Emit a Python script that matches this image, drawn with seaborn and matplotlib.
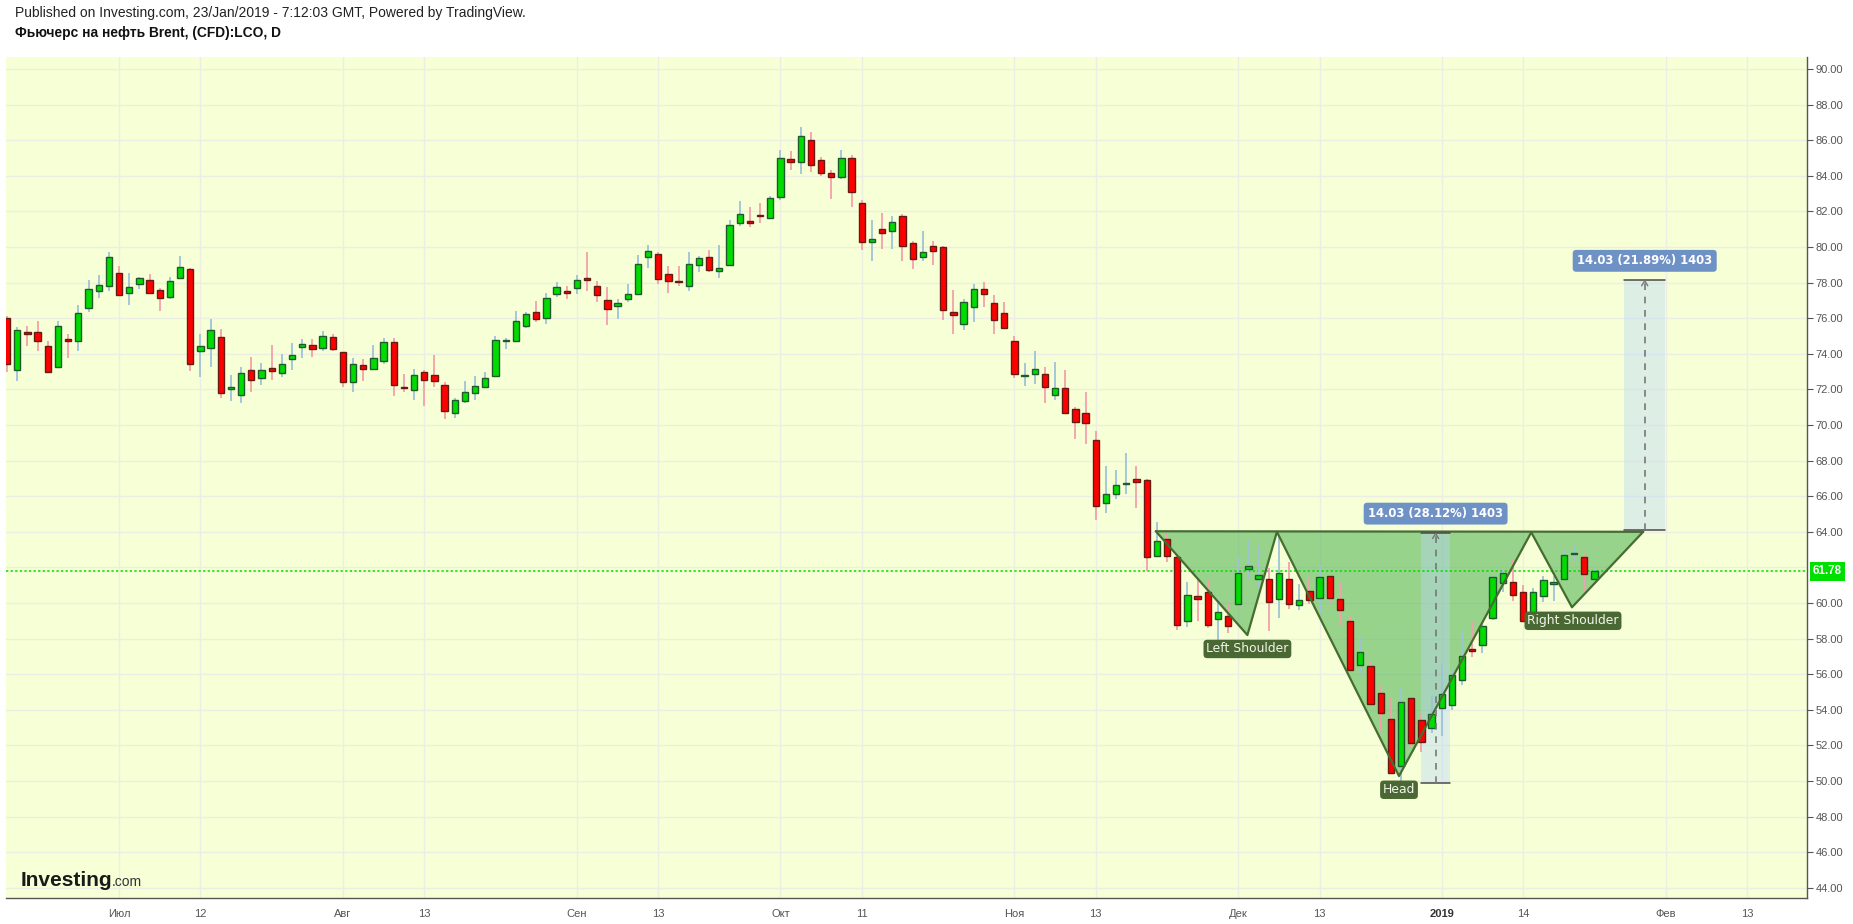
import numpy as np
import pandas as pd
import matplotlib
matplotlib.use("Agg")
import matplotlib.pyplot as plt
import matplotlib.transforms as mtransforms
from matplotlib.patches import Polygon, Rectangle
import seaborn as sns

# ---------------- data ----------------
opens = [76.0, 73.08, 75.2, 75.21, 74.43, 73.25, 74.82, 74.71, 76.57, 77.52,
         77.81, 78.55, 77.41, 77.92, 78.14, 77.58, 77.19, 78.25, 78.76, 74.13,
         74.30, 74.93, 72.01, 71.71, 73.08, 72.63, 73.19, 72.91, 73.68, 74.37,
         74.48, 74.30, 74.93, 74.09, 72.39, 73.36, 73.17, 73.58, 74.65, 72.12,
         71.96, 72.97, 72.80, 72.24, 70.66, 71.34, 71.79, 72.12, 72.74, 74.71,
         74.71, 75.55, 76.34, 76.0, 77.35, 77.51, 77.68, 78.21, 77.79, 77.01,
         76.67, 77.07, 77.35, 79.42, 79.59, 78.47, 78.07, 77.79, 78.97, 79.42,
         78.64, 78.97, 81.33, 81.44, 81.78, 81.61, 82.79, 84.92, 84.75, 85.98,
         84.86, 84.13, 83.91, 84.97, 82.45, 80.26, 80.99, 80.88, 81.72, 80.21,
         79.41, 80.08, 80.02, 76.33, 75.66, 76.61, 77.62, 76.83, 76.27, 74.71,
         72.76, 72.86, 72.86, 71.68, 72.07, 70.90, 70.68, 69.16, 65.64, 66.14,
         66.70, 66.98, 66.93, 62.62, 63.62, 62.60, 59.01, 60.41, 60.64, 59.12,
         59.29, 59.96, 61.93, 61.37, 61.37, 60.24, 61.37, 59.91, 60.69, 60.30,
         61.54, 60.24, 59.01, 56.54, 56.48, 54.96, 53.50, 50.87, 54.68, 53.45,
         53.00, 54.12, 54.29, 55.69, 57.43, 57.66, 59.18, 61.14, 61.20, 60.64,
         59.34, 60.41, 61.09, 61.37, 62.76, 62.60, 61.37]
highs = [76.1, 75.52, 75.57, 75.85, 74.73, 75.86, 75.12, 76.76, 78.16, 78.44,
         79.73, 78.95, 78.55, 78.33, 78.48, 77.69, 78.33, 79.51, 78.82, 75.12,
         75.96, 75.40, 72.82, 73.27, 73.83, 73.49, 74.50, 74.0, 74.61, 74.84,
         74.84, 75.29, 75.12, 74.12, 73.77, 73.70, 74.50, 74.89, 74.89, 72.87,
         73.15, 73.08, 73.94, 72.42, 71.52, 72.48, 72.76, 72.98, 75.01, 74.89,
         76.41, 76.36, 76.97, 77.42, 78.04, 77.79, 78.43, 79.72, 78.07, 77.74,
         77.07, 77.91, 79.55, 80.11, 79.70, 78.92, 78.92, 79.70, 79.48, 79.81,
         80.09, 81.50, 82.58, 82.24, 82.47, 82.84, 85.42, 85.38, 86.73, 86.45,
         85.08, 84.30, 85.42, 85.14, 82.62, 81.51, 81.89, 81.72, 81.83, 80.32,
         80.88, 80.36, 80.08, 77.58, 77.07, 77.91, 78.03, 77.28, 76.89, 74.99,
         73.49, 74.16, 73.27, 73.55, 73.10, 71.01, 71.87, 69.67, 67.69, 67.47,
         68.40, 67.69, 66.95, 64.54, 63.90, 62.83, 61.16, 61.35, 61.27, 60.34,
         59.96, 62.60, 63.61, 63.28, 61.99, 63.95, 62.32, 61.09, 61.42, 62.10,
         61.56, 61.20, 59.29, 58.11, 56.76, 55.36, 54.68, 55.30, 54.70, 53.78,
         54.81, 56.59, 56.31, 58.37, 58.95, 58.95, 61.50, 61.87, 62.49, 61.03,
         60.86, 61.54, 61.54, 63.00, 63.22, 62.77, 62.00]
lows = [73.0, 72.48, 74.46, 74.13, 72.95, 73.2, 73.79, 74.16, 76.33, 77.11,
        77.51, 77.22, 76.72, 77.66, 77.36, 76.38, 77.06, 78.18, 73.04, 72.70,
        73.23, 71.52, 71.36, 71.21, 71.88, 72.27, 72.55, 72.70, 73.10, 73.79,
        73.83, 74.16, 74.16, 72.14, 71.88, 72.48, 73.08, 73.42, 71.64, 71.88,
        71.41, 71.09, 72.14, 70.31, 70.42, 71.26, 71.43, 72.06, 72.70, 74.24,
        74.65, 75.44, 75.76, 75.70, 77.21, 77.05, 77.33, 77.50, 76.93, 75.64,
        75.93, 76.93, 77.33, 78.79, 77.91, 77.40, 77.79, 77.51, 78.58, 78.58,
        78.28, 78.95, 81.20, 81.14, 81.36, 81.57, 82.62, 84.32, 84.07, 84.19,
        83.96, 82.71, 83.79, 82.26, 79.85, 79.23, 79.87, 79.87, 79.20, 78.75,
        79.22, 79.0, 75.92, 75.13, 75.36, 75.81, 76.61, 75.13, 75.40, 72.62,
        72.17, 72.28, 71.22, 71.38, 70.62, 69.20, 68.92, 64.67, 65.08, 65.86,
        66.14, 65.34, 61.78, 62.60, 62.32, 58.46, 58.63, 59.01, 58.61, 57.72,
        58.33, 59.90, 61.31, 60.86, 58.43, 59.18, 59.68, 59.63, 59.96, 59.40,
        59.96, 58.73, 56.20, 56.09, 54.30, 52.83, 50.41, 49.86, 51.90, 51.63,
        52.70, 52.53, 54.00, 55.41, 56.99, 57.21, 59.06, 60.64, 60.13, 58.95,
        59.29, 60.06, 60.13, 61.30, 62.32, 60.64, 61.30]
closes = [73.4, 75.33, 75.1, 74.71, 73.0, 75.55, 74.71, 76.29, 77.64, 77.86,
          79.43, 77.28, 77.75, 78.25, 77.41, 77.13, 78.09, 78.87, 73.42, 74.43,
          75.33, 71.82, 72.12, 72.91, 72.55, 73.08, 73.06, 73.42, 73.92, 74.54,
          74.24, 74.99, 74.24, 72.39, 73.42, 73.17, 73.75, 74.65, 72.27, 72.05,
          72.80, 72.55, 72.46, 70.78, 71.39, 71.84, 72.18, 72.63, 74.76, 74.73,
          75.83, 76.22, 75.94, 77.12, 77.74, 77.40, 78.13, 78.17, 77.29, 76.50,
          76.84, 77.35, 79.03, 79.76, 78.19, 78.07, 78.02, 79.03, 79.36, 78.69,
          78.80, 81.21, 81.83, 81.33, 81.72, 82.73, 84.97, 84.80, 86.26, 84.58,
          84.13, 83.91, 84.97, 83.07, 80.26, 80.43, 80.77, 81.38, 80.04, 79.31,
          79.74, 79.80, 76.44, 76.16, 76.89, 77.62, 77.34, 75.88, 75.43, 72.86,
          72.80, 73.14, 72.13, 72.07, 70.68, 70.17, 70.12, 65.47, 66.14, 66.65,
          66.74, 66.81, 62.56, 63.51, 62.62, 58.78, 60.47, 60.24, 58.78, 59.51,
          58.73, 61.70, 62.10, 61.59, 60.07, 61.70, 59.96, 60.19, 60.19, 61.48,
          60.30, 59.63, 56.25, 57.27, 54.34, 53.84, 50.47, 54.46, 52.15, 52.21,
          53.78, 54.91, 55.97, 57.04, 57.32, 58.73, 61.48, 61.70, 60.47, 59.01,
          60.64, 61.31, 61.20, 62.72, 62.78, 61.65, 61.78]

last_price = 61.78

# trading days (ICE Brent: weekdays, closed 25 Dec and 1 Jan)
all_days = pd.bdate_range("2018-06-15", "2019-02-20")
all_days = all_days[~all_days.isin(pd.to_datetime(["2018-12-25", "2019-01-01"]))]

tick_dates = ["2018-07-02", "2018-07-12", "2018-08-01", "2018-08-13", "2018-09-03",
              "2018-09-13", "2018-10-01", "2018-10-11", "2018-11-01", "2018-11-13",
              "2018-12-03", "2018-12-13", "2019-01-02", "2019-01-14", "2019-02-01",
              "2019-02-13"]
tick_labels = ["Июл", "12", "Авг", "13", "Сен", "13", "Окт", "11", "Ноя", "13",
               "Дек", "13", "2019", "14", "Фев", "13"]
y_ticks = [44, 46, 48, 50, 52, 54, 56, 58, 60, 64, 66, 68, 70, 72, 74, 76,
           78, 80, 82, 84, 86, 88, 90]

# inverse head & shoulders drawing (date of point, price)
hs_dates = ["2018-11-21", "2018-12-04", "2018-12-07", "2018-12-26", "2019-01-15",
            "2019-01-21", "2019-01-30"]
hs_offsets = [-0.1, -0.1, -0.2, -0.2, -0.2, -0.2, -0.2]
hs_prices = [64.03, 58.2, 64.0, 50.28, 63.97, 59.76, 64.0]
hs_labels = ["Left Shoulder", "Head", "Right Shoulder"]
hs_label_prices = [57.42, 49.51, 59.0]

# price range measurements
m_left = ["2018-12-28", "2019-01-28"]
m_width = [2.9, 4.0]
m_low = [49.89, 64.09]
m_high = [63.92, 78.12]
m_text = ["14.03 (28.12%) 1403", "14.03 (21.89%) 1403"]

# ---------------- style ----------------
sns.set_style("white")
plt.rcParams["font.family"] = ["Liberation Sans", "DejaVu Sans"]

W, H = 1853, 924
fig = plt.figure(figsize=(W / 100, H / 100), dpi=100)
fig.patch.set_facecolor("white")
L, R, T, B = 6, 1807, 57, 898
ax = fig.add_axes([L / W, 1 - B / H, (R - L) / W, (B - T) / H])
ax.set_facecolor("#f6ffd5")

def pos(d):
    return float(all_days.get_loc(pd.Timestamp(d)))

x = np.arange(len(closes), dtype=float)
o = np.array(opens); h = np.array(highs); l = np.array(lows); c = np.array(closes)
up = c >= o

ax.set_xlim(-0.11, 176.9)
ax.set_ylim(43.43, 90.67)

# grid
tick_pos = [pos(d) for d in tick_dates]
for tp in tick_pos:
    ax.axvline(tp, color="#eceee4", lw=1, zorder=0)
for yv in range(44, 91, 2):
    ax.axhline(yv, color="#eceee4", lw=1, zorder=0)

# head & shoulders pattern
hx = [pos(d) + off for d, off in zip(hs_dates, hs_offsets)]
hy = hs_prices
for tri in [(0, 1, 2), (2, 3, 4), (4, 5, 6)]:
    ax.add_patch(Polygon([(hx[i], hy[i]) for i in tri], closed=True,
                         facecolor="#4caf50", alpha=0.55, edgecolor="none", zorder=1))

# measurement rectangles
for k in range(2):
    x0 = pos(m_left[k]) - 0.05
    ax.add_patch(Rectangle((x0, m_low[k]), m_width[k], m_high[k] - m_low[k],
                           facecolor="#b9d7fc", alpha=0.4, edgecolor="none", zorder=1.5))

# last price dotted line
ax.axhline(last_price, color="#00e000", lw=1.1, ls=(0, (1.5, 1.5)), zorder=2)

# candles
wick_col = np.where(up, "#9fc3d8", "#f4a0aa")
ax.vlines(x, l, h, colors=wick_col, lw=1.3, zorder=3)
body_bottom = np.minimum(o, c)
body_h = np.maximum(np.abs(c - o), 0.06)
ax.bar(x[up], body_h[up], bottom=body_bottom[up], width=0.62, color="#00dc00",
       edgecolor="#1f5a2c", linewidth=1.0, zorder=4)
ax.bar(x[~up], body_h[~up], bottom=body_bottom[~up], width=0.62, color="#ff0000",
       edgecolor="#661a14", linewidth=1.0, zorder=4)

# pattern outline
line_c = "#456d30"
sns.lineplot(x=hx, y=hy, sort=False, color=line_c, lw=1.6, ax=ax, zorder=5)
ax.plot([hx[0], hx[-1]], [hy[0], hy[-1]], color=line_c, lw=1.6, zorder=5)

# measurement lines, arrows, labels
for k in range(2):
    x0 = pos(m_left[k]) - 0.05
    x1 = x0 + m_width[k]
    xm = (x0 + x1) / 2
    ax.plot([x0, x1], [m_high[k], m_high[k]], color="#4a4a4a", lw=1.1, zorder=5)
    ax.plot([x0, x1], [m_low[k], m_low[k]], color="#4a4a4a", lw=1.1, zorder=5)
    ax.plot([xm, xm], [m_low[k], m_high[k] - 0.05], color="#777777", lw=1.2,
            ls=(0, (4, 4)), zorder=5)
    ax.plot([xm - 0.3, xm, xm + 0.3], [m_high[k] - 0.3, m_high[k] - 0.02, m_high[k] - 0.3],
            color="#777777", lw=1.0, zorder=5)
    ax.text(xm, m_high[k] + 1.1, m_text[k], ha="center", va="center", color="white",
            fontsize=8.4, fontweight="bold", family="DejaVu Sans", zorder=7,
            bbox=dict(boxstyle="round,pad=0.38,rounding_size=0.3", fc="#6f92c6", ec="none"))

# pattern labels
for name, px, py in zip(hs_labels, [hx[1], hx[3], hx[5] + 0.1], hs_label_prices):
    ax.text(px, py, name, ha="center", va="center", color="#f2f4e8", fontsize=8.9,
            family="DejaVu Sans", zorder=7,
            bbox=dict(boxstyle="round,pad=0.22,rounding_size=0.3", fc="#4a6833", ec="none"))

# axes
for s in ["top", "left"]:
    ax.spines[s].set_visible(False)
ax.spines["right"].set_color("#555555")
ax.spines["right"].set_linewidth(1.0)
ax.spines["bottom"].set_color("#555555")
ax.spines["bottom"].set_linewidth(1.0)
ax.yaxis.tick_right()
ax.set_yticks(y_ticks)
ax.set_yticklabels([f"{v:.2f}" for v in y_ticks])
ax.tick_params(axis="y", direction="out", length=4, width=0.8, color="#555555",
               labelcolor="#555555", labelsize=8, pad=2)
ax.set_xticks(tick_pos)
ax.set_xticklabels(tick_labels)
ax.tick_params(axis="x", length=0, labelcolor="#555555", labelsize=8, pad=8)
for t in ax.get_xticklabels():
    if t.get_text() == "2019":
        t.set_fontweight("bold")
        t.set_color("#333333")
ax.grid(False)

# last price tag
trans = mtransforms.blended_transform_factory(ax.transAxes, ax.transData)
ax.text(1.0 + 6 / (R - L), last_price, f"{last_price:.2f}", transform=trans, ha="left",
        va="center", color="white", fontsize=8.3, fontweight="bold", clip_on=False, zorder=8,
        bbox=dict(boxstyle="square,pad=0.3", fc="#00e000", ec="none"))

# header texts
fig.text(15 / W, 1 - 13 / H, "Published on Investing.com, 23/Jan/2019 - 7:12:03 GMT, Powered by TradingView.",
         ha="left", va="center", fontsize=10.0, color="#222222")
fig.text(15 / W, 1 - 33 / H, "Фьючерс на нефть Brent, (CFD):LCO, D",
         ha="left", va="center", fontsize=9.9, fontweight="bold", color="#111111")

# Investing.com logo
fig.text(21 / W, 1 - 886 / H, "Investing", ha="left", va="baseline", fontsize=15,
         fontweight="bold", color="#1a1a1a")
fig.text(112 / W, 1 - 886 / H, ".com", ha="left", va="baseline", fontsize=10,
         color="#333333")

fig.savefig("out.png", dpi=100, facecolor="white")
